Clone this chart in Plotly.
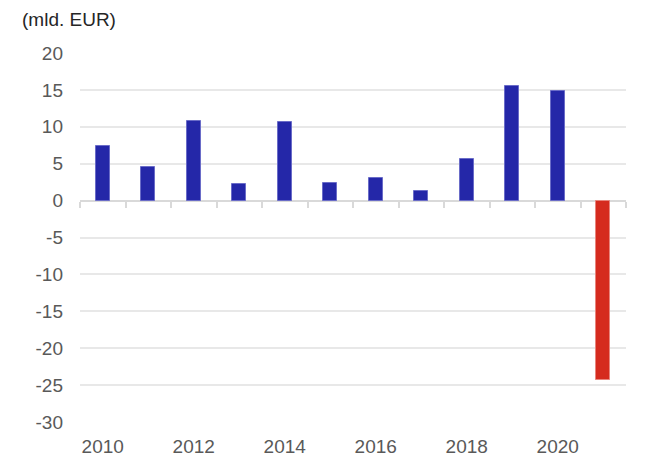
import plotly.graph_objects as go

years = [2010, 2011, 2012, 2013, 2014, 2015, 2016, 2017, 2018, 2019, 2020, 2021]
values = [7.4, 4.6, 10.8, 2.2, 10.7, 2.4, 3.0, 1.3, 5.7, 15.5, 14.8, -24.3]
colors = ["#2427A8"] * 11 + ["#D52B1E"]
line_colors = ["#6A6CC8"] * 11 + ["#E8857D"]

y_ticks = [-30, -25, -20, -15, -10, -5, 0, 5, 10, 15, 20]
y_ticktext = [str(v) for v in y_ticks]  # plain hyphen-minus as in the source
y_min, y_max = y_ticks[0], y_ticks[-1]
boundaries = [y - 0.5 for y in years] + [years[-1] + 0.5]

fig = go.Figure()
fig.add_trace(go.Bar(
    x=years, y=values,
    marker=dict(color=colors, line=dict(color=line_colors, width=1)),
    width=0.31,
    hoverinfo="x+y",
))
# helper trace to render the category-boundary ticks on the zero line
fig.add_trace(go.Scatter(x=[boundaries[0], boundaries[-1]], y=[0, 0], xaxis="x2",
                         mode="lines", line=dict(color="rgba(0,0,0,0)"),
                         hoverinfo="skip", showlegend=False))

font = "Liberation Sans, Arial, sans-serif"
fig.update_layout(
    width=670, height=475,
    margin=dict(l=80, r=44, t=53, b=53),
    paper_bgcolor="white", plot_bgcolor="white",
    showlegend=False,
    bargap=0,
    font=dict(family=font, size=19, color="#595959"),
    xaxis=dict(
        range=[boundaries[0], boundaries[-1]],
        tickmode="array",
        tickvals=years[::2],
        ticktext=[str(y) for y in years[::2]],
        showgrid=False, zeroline=False, showline=False,
        ticks="", ticklabelstandoff=11,
        tickfont=dict(size=19, color="#595959"),
    ),
    xaxis2=dict(
        overlaying="x", anchor="free",
        position=(0 - y_min) / (y_max - y_min),
        range=[boundaries[0], boundaries[-1]],
        tickmode="array", tickvals=boundaries,
        showticklabels=False, showgrid=False, zeroline=False, showline=False,
        ticks="outside", ticklen=6, tickwidth=2, tickcolor="#d9d9d9",
        side="bottom",
    ),
    yaxis=dict(
        range=[y_min, y_max],
        tickmode="array", tickvals=y_ticks, ticktext=y_ticktext,
        showgrid=True, gridcolor="#e8e8e8", gridwidth=1.5,
        zeroline=True, zerolinecolor="#d9d9d9", zerolinewidth=2,
        showline=False, ticks="", ticklabelstandoff=16,
        tickfont=dict(size=19, color="#595959"),
    ),
    annotations=[dict(
        text="(mld. EUR)", xref="paper", yref="paper",
        x=-80 / 546 + 20 / 546, y=1, yshift=34, xanchor="left", yanchor="middle",
        showarrow=False, font=dict(size=19, color="#262626", family=font),
    )],
)

fig.write_html("out.html")
